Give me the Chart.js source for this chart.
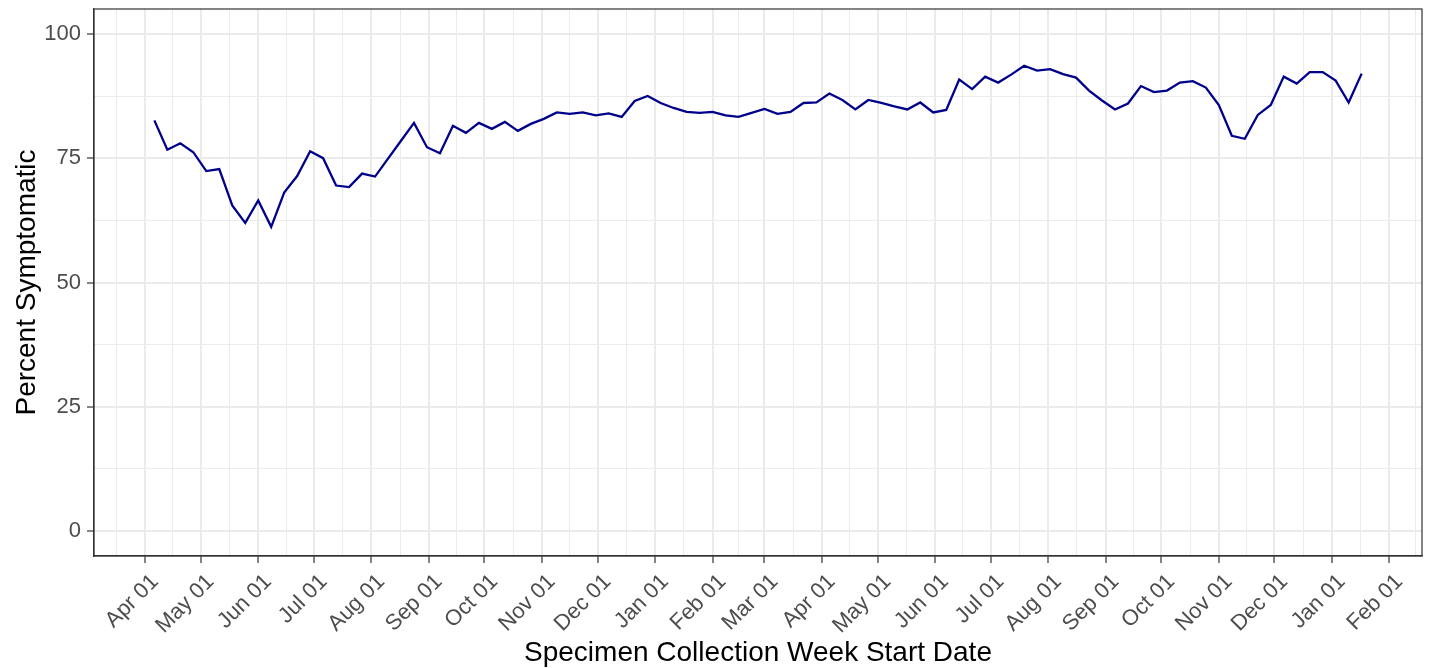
<!DOCTYPE html>
<html>
<head>
<meta charset="utf-8">
<script src="https://cdn.jsdelivr.net/npm/chart.js@4/dist/chart.umd.min.js"></script>
<style>
  html, body { margin: 0; padding: 0; background: #ffffff; }
  canvas { display: block; }
</style>
</head>
<body>
<canvas id="c" width="1430" height="668"></canvas>
<script>
// ---- Data ----
const firstWeekStart = '2020-04-06';
const weekCount = 94;
const percentSymptomatic = [
  82.6, 76.7, 78.0, 76.2, 72.4, 72.8, 65.5, 62.0, 66.5, 61.2,
  68.1, 71.4, 76.4, 75.0, 69.5, 69.2, 71.9, 71.3, 74.9, 78.5,
  82.1, 77.2, 76.0, 81.5, 80.1, 82.1, 80.9, 82.3, 80.5, 81.9,
  82.9, 84.2, 83.9, 84.2, 83.6, 84.0, 83.3, 86.5, 87.5, 86.1,
  85.1, 84.3, 84.1, 84.3, 83.6, 83.3, 84.1, 84.9, 83.9, 84.3,
  86.1, 86.2, 88.0, 86.7, 84.8, 86.7, 86.1, 85.4, 84.8, 86.2,
  84.2, 84.7, 90.8, 88.9, 91.4, 90.2, 91.8, 93.6, 92.6, 92.9,
  91.9, 91.2, 88.6, 86.6, 84.8, 86.0, 89.5, 88.3, 88.6, 90.2,
  90.5, 89.2, 85.7, 79.5, 78.9, 83.7, 85.7, 91.4, 90.0, 92.3,
  92.3, 90.6, 86.2, 92.0
];
const xTickDates = [
  '2020-04-01','2020-05-01','2020-06-01','2020-07-01','2020-08-01','2020-09-01',
  '2020-10-01','2020-11-01','2020-12-01','2021-01-01','2021-02-01','2021-03-01',
  '2021-04-01','2021-05-01','2021-06-01','2021-07-01','2021-08-01','2021-09-01',
  '2021-10-01','2021-11-01','2021-12-01','2022-01-01','2022-02-01'
];
const xTickLabels = [
  'Apr 01','May 01','Jun 01','Jul 01','Aug 01','Sep 01','Oct 01','Nov 01','Dec 01',
  'Jan 01','Feb 01','Mar 01','Apr 01','May 01','Jun 01','Jul 01','Aug 01','Sep 01',
  'Oct 01','Nov 01','Dec 01','Jan 01','Feb 01'
];
const yTickValues = [0, 25, 50, 75, 100];
const yMinorValues = [12.5, 37.5, 62.5, 87.5];

// ---- helpers ----
function dayNum(s) {
  const [y, m, d] = s.split('-').map(Number);
  return Date.UTC(y, m - 1, d) / 86400000;
}
const startDay = dayNum(firstWeekStart);
const weekDays = Array.from({length: weekCount}, (_, i) => startDay + 7 * i);
const points = percentSymptomatic.map((v, i) => ({x: weekDays[i], y: v}));

const majorX = xTickDates.map(dayNum);
const minorX = [];
const beforeFirst = Date.UTC(2020, 2, 1) / 86400000;
const afterLast = Date.UTC(2022, 2, 1) / 86400000;
minorX.push((beforeFirst + majorX[0]) / 2);
for (let i = 0; i < majorX.length - 1; i++) minorX.push((majorX[i] + majorX[i + 1]) / 2);
minorX.push((majorX[majorX.length - 1] + afterLast) / 2);

const span = weekDays[weekDays.length - 1] - weekDays[0];
const xMin = weekDays[0] - 0.05 * span;
const xMax = weekDays[weekDays.length - 1] + 0.05 * span;

const GRID = '#EBEBEB';
const DARK = '#333333';
const FONT = '"Liberation Sans", Arial, sans-serif';

const borderPlugin = {
  id: 'panelBorder',
  afterDraw(chart) {
    const a = chart.chartArea;
    const ctx = chart.ctx;
    ctx.save();
    ctx.strokeStyle = DARK;
    ctx.lineWidth = 1.2;
    ctx.strokeRect(a.left, a.top, a.right - a.left, a.bottom - a.top);
    ctx.restore();
  }
};

function zeroPad(scale) {
  scale.paddingTop = 0; scale.paddingBottom = 0;
  scale.paddingLeft = 0; scale.paddingRight = 0;
}

new Chart(document.getElementById('c'), {
  type: 'line',
  data: {
    datasets: [{
      data: points,
      borderColor: '#00008B',
      borderWidth: 2.3,
      pointRadius: 0,
      tension: 0,
      fill: false
    }]
  },
  options: {
    responsive: false,
    devicePixelRatio: 1,
    animation: false,
    layout: { padding: { left: 0, right: 8, top: 9, bottom: 0 } },
    plugins: { legend: { display: false }, tooltip: { enabled: false } },
    scales: {
      x: {
        type: 'linear',
        min: xMin,
        max: xMax,
        afterBuildTicks(scale) {
          const t = majorX.map((v, i) => ({value: v, label: xTickLabels[i], minor: false}))
            .concat(minorX.map(v => ({value: v, label: '', minor: true})));
          t.sort((a, b) => a.value - b.value);
          scale.ticks = t;
        },
        afterFit(scale) { scale.height = 112; zeroPad(scale); },
        grid: {
          color: GRID,
          lineWidth: ctx => (ctx.tick && ctx.tick.minor) ? 1 : 2,
          tickLength: 7,
          tickColor: ctx => (ctx.tick && ctx.tick.minor) ? 'rgba(0,0,0,0)' : DARK,
          tickWidth: 1.2
        },
        border: { display: true, color: DARK, width: 1.2 },
        ticks: {
          autoSkip: false,
          minRotation: 45,
          maxRotation: 45,
          padding: 6,
          labelOffset: 10,
          color: '#4D4D4D',
          font: { family: FONT, size: 22 },
          callback(value, index, ticks) { return ticks[index].label; }
        },
        title: {
          display: true,
          text: 'Specimen Collection Week Start Date',
          color: '#000000',
          font: { family: FONT, size: 28, lineHeight: 1.1 },
          padding: { top: 0, bottom: -1 }
        }
      },
      y: {
        type: 'linear',
        min: -5,
        max: 105,
        afterBuildTicks(scale) {
          const t = yTickValues.map(v => ({value: v, minor: false}))
            .concat(yMinorValues.map(v => ({value: v, minor: true})));
          t.sort((a, b) => a.value - b.value);
          scale.ticks = t;
        },
        afterFit(scale) { scale.width = 94; zeroPad(scale); },
        grid: {
          color: GRID,
          lineWidth: ctx => (ctx.tick && ctx.tick.minor) ? 1 : 2,
          tickLength: 7,
          tickColor: ctx => (ctx.tick && ctx.tick.minor) ? 'rgba(0,0,0,0)' : DARK,
          tickWidth: 1.2
        },
        border: { display: true, color: DARK, width: 1.2 },
        ticks: {
          autoSkip: false,
          padding: 6,
          color: '#4D4D4D',
          font: { family: FONT, size: 22 },
          callback(value, index, ticks) { return ticks[index].minor ? '' : String(value); }
        },
        title: {
          display: true,
          text: 'Percent Symptomatic',
          color: '#000000',
          font: { family: FONT, size: 28, lineHeight: 1.1 },
          padding: { top: 12, bottom: 0 }
        }
      }
    }
  },
  plugins: [borderPlugin]
});
</script>
</body>
</html>
